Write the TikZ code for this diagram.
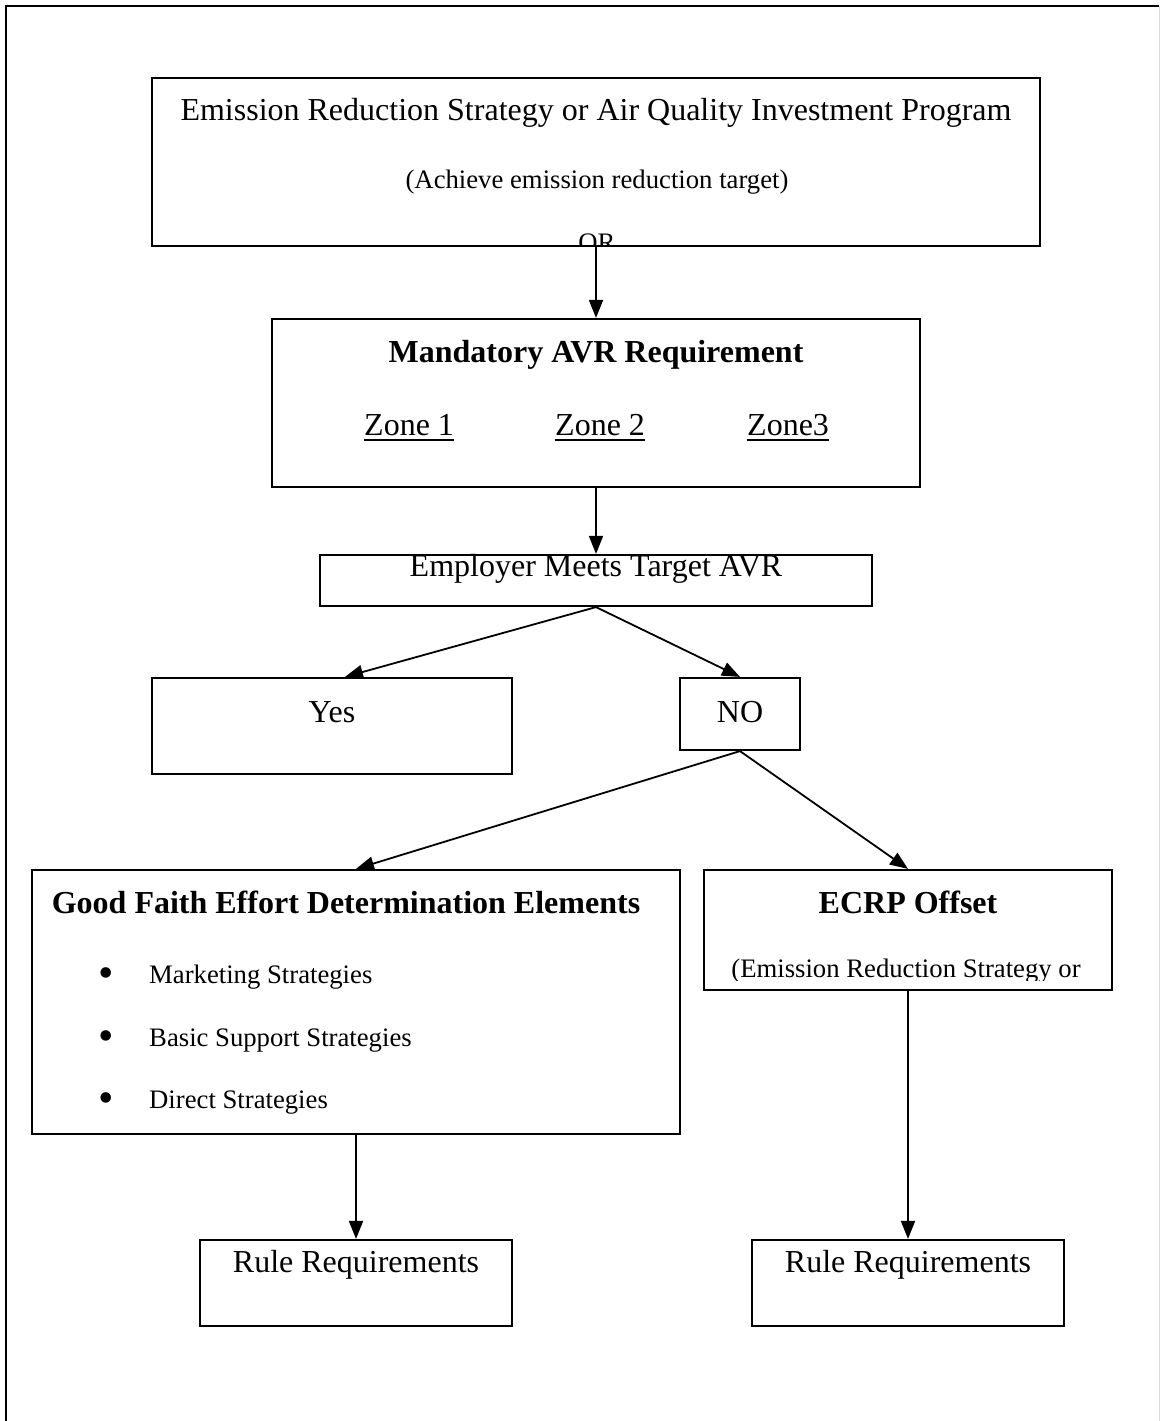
\documentclass[tikz,border=0pt]{standalone}
\usepackage{fontspec}
\setmainfont{Liberation Serif}
\usetikzlibrary{arrows.meta,fit}
\begin{document}
\begin{tikzpicture}[x=1pt,y=-1pt,
  box/.style={draw, line width=2.2pt, inner sep=0pt},
  arr/.style={line width=1.8pt, -{Triangle[length=18pt,width=14pt]}},
  big/.style={inner sep=0pt, font=\fontsize{32}{38}\selectfont},
  bigb/.style={inner sep=0pt, font=\fontsize{32}{38}\selectfont\bfseries},
  small/.style={inner sep=0pt, font=\fontsize{26.7}{32}\selectfont},
  bul/.style={inner sep=0pt, font=\fontsize{44}{50}\selectfont}]
\useasboundingbox (0,0) rectangle (1160,1421);
% outer frame
\draw[line width=2pt] (6,1421) -- (6,6) -- (1159,6);
\draw[line width=1pt, black!15] (1159,6) -- (1159,1421);
% boxes
\node[box, fit={(152,78) (1040,246)}] (b1) {};
\node[box, fit={(272,319) (920,487)}] (b2) {};
\node[box, fit={(320,555) (872,606)}] (b3) {};
\node[box, fit={(152,678) (512,774)}] (yes) {};
\node[box, fit={(680,678) (800,750)}] (no) {};
\node[box, fit={(32,870) (680,1134)}] (gfe) {};
\node[box, fit={(704,870) (1112,990)}] (ecrp) {};
\node[box, fit={(200,1240) (512,1326)}] (r1) {};
\node[box, fit={(752,1240) (1064,1326)}] (r2) {};
% texts
\node[big, anchor=base] (t1) at (596,120) {Emission Reduction Strategy or Air Quality Investment Program};
\node[small, anchor=base] (t2) at (597,188) {(Achieve emission reduction target)};
\begin{scope}
  \clip (152,78) rectangle (1040,246);
  \node[small, anchor=base] (tor) at (597,251) {OR};
\end{scope}
\node[bigb, anchor=base] (t3) at (596,362) {Mandatory AVR Requirement};
\node[big, anchor=base west] (z1) at (364,435) {Zone 1\hspace{8pt}};
\node[big, anchor=base west] (z2) at (555,435) {Zone 2};
\node[big, anchor=base west] (z3) at (747,435) {Zone3};
\foreach \z in {z1,z2,z3}
  \draw[line width=1.6pt] ([yshift=-5pt]\z.base west) -- ([yshift=-5pt]\z.base east);
\node[big, anchor=base] (t4) at (596,576) {Employer Meets Target AVR};
\node[big, anchor=base] (t5) at (332,722) {Yes};
\node[big, anchor=base] (t6) at (740,722) {NO};
\node[bigb, anchor=base] (t7) at (346,913) {Good Faith Effort Determination Elements};
\node[bigb, anchor=base] (t8) at (908,913) {ECRP Offset};
\begin{scope}
  \clip (704,870) rectangle (1112,980);
  \node[small, anchor=base] (t9) at (906,977) {(Emission Reduction Strategy or};
\end{scope}
\node[bul, anchor=base] (bl1) at (106,987) {\textbullet};
\node[bul, anchor=base] (bl2) at (106,1050) {\textbullet};
\node[bul, anchor=base] (bl3) at (106,1112) {\textbullet};
\node[small, anchor=base west] (i1) at (149,983) {Marketing Strategies};
\node[small, anchor=base west] (i2) at (149,1046) {Basic Support Strategies};
\node[small, anchor=base west] (i3) at (149,1108) {Direct Strategies};
\node[big, anchor=base] (t10) at (356,1272) {Rule Requirements};
\node[big, anchor=base] (t11) at (908,1272) {Rule Requirements};
% connectors
\draw[arr] (b1.south) -- (b2.north);
\draw[arr] (b2.south) -- (b3.north);
\draw[arr] (b3.south) -- ([xshift=13pt]yes.north);
\draw[arr] (b3.south) -- (no.north);
\draw[arr] (no.south) -- (gfe.north);
\draw[arr] (no.south) -- (ecrp.north);
\draw[arr] (gfe.south) -- (r1.north);
\draw[arr] (ecrp.south) -- (r2.north);
\end{tikzpicture}
\end{document}
